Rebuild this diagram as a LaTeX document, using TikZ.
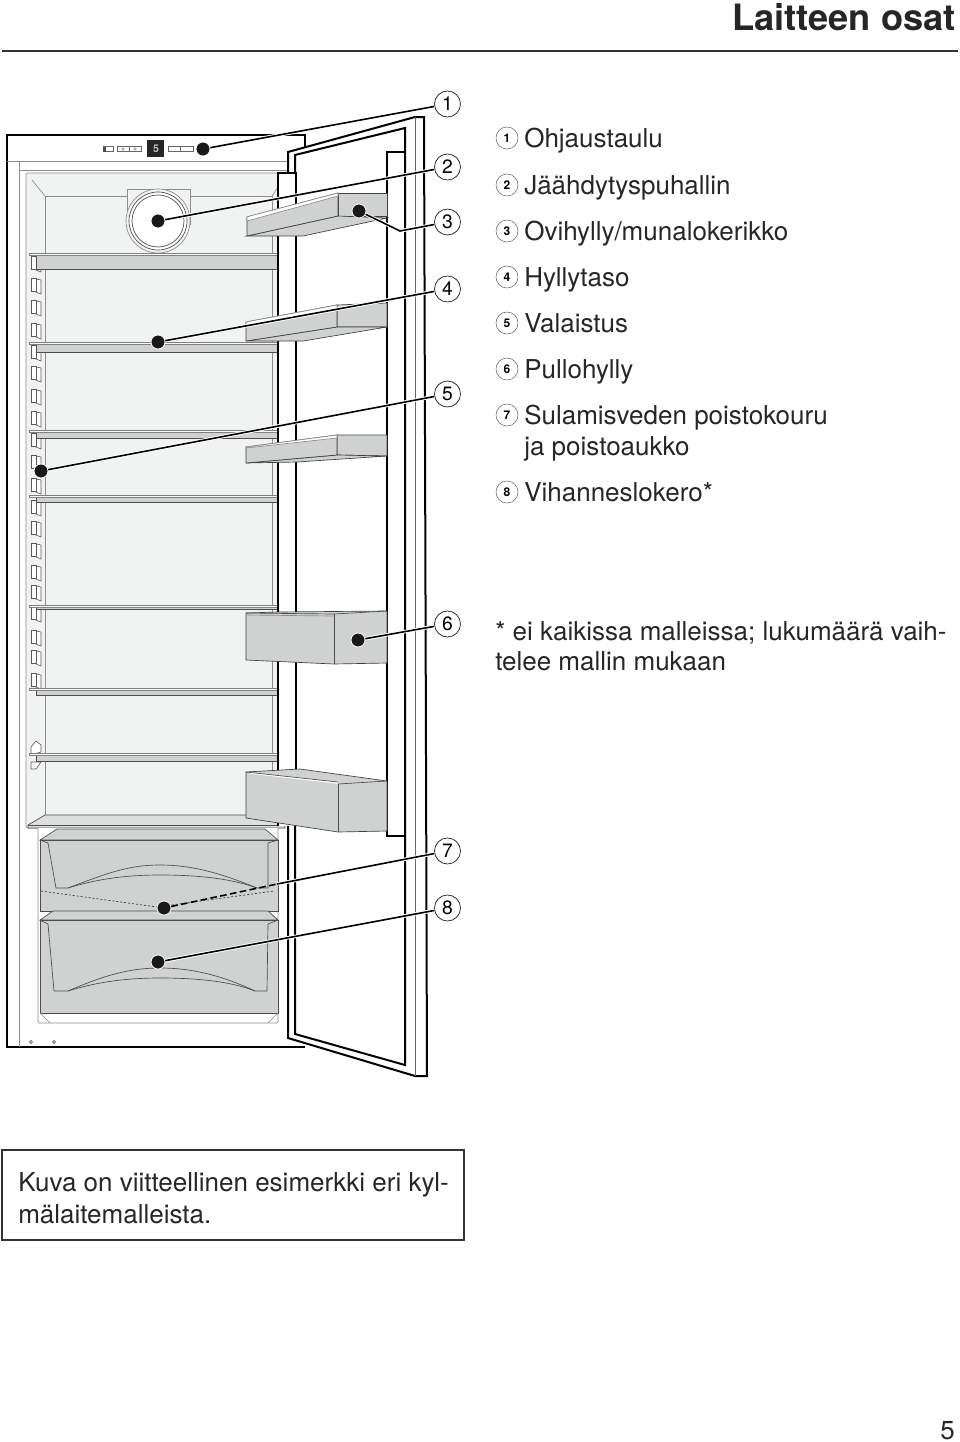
\documentclass[tikz,border=0pt]{standalone}
\usepackage{fontspec}
\setmainfont{TeX Gyre Heros}
\usetikzlibrary{calc}
\definecolor{shelfgray}{HTML}{D0D2D1}
\definecolor{linergray}{HTML}{F1F3F2}
\tikzset{
	bodyline/.style={line width=1.5pt, line join=miter},
	thinline/.style={line width=0.5pt, draw=black!70},
	palegray/.style={line width=0.5pt, draw=black!45},
	shelfface/.style={fill=shelfgray, draw=black!75, line width=0.5pt},
	callout/.style={circle, draw=black!85, fill=white, line width=0.55pt, minimum size=19.5pt, inner sep=0pt, font=\fontsize{14.5}{14.5}\selectfont},
	keycircle/.style={circle, draw=black!60, line width=0.4pt, minimum size=16.5pt, inner sep=0pt, font=\fontsize{9}{9}\selectfont\bfseries},
	targetdot/.style={circle, fill=black!90, draw=white, line width=0.6pt, minimum size=10.5pt, inner sep=0pt},
	leadline/.style={line width=1.2pt, preaction={draw=white, line width=2.6pt}},
	keytext/.style={anchor=base west, inner sep=0pt, text=black!85, font=\fontsize{19.5}{23}\selectfont},
	tab/.style={draw=black!65, line width=0.45pt, fill=white}
}
\begin{document}
\begin{tikzpicture}[x=0.75pt, y=-0.75pt]
      \useasboundingbox (0,0) rectangle (960,1442);
      % header
      \node[anchor=base east, inner sep=0pt, font=\fontsize{27.2}{30}\selectfont\bfseries, text=black!85] (title) at (956,30) {Laitteen osat};
      \draw[line width=1pt, black!80] (2,51) -- (958,51);
      % cabinet
      \draw[bodyline, fill=white] (305,147) -- (305,135) -- (7,135) -- (7,1047) -- (305,1047);
      \draw[palegray] (7,161) -- (288,161);
      \draw[palegray] (19,161) -- (19,1047);
      \draw[palegray] (19,170) -- (288,170);
      % liner
      \draw[palegray, fill=linergray, rounded corners=1.5pt] (26,173) -- (278,173) -- (278,828) -- (26,828) -- cycle;
      \draw[palegray] (45,196) -- (272,196) -- (272,815);
      \draw[palegray] (45,196) -- (45,815) -- (272,815);
      \draw[palegray] (32,180) -- (45,196);
      \draw[palegray] (272,196) -- (278,187);
      % fan
      \draw[palegray, fill=linergray] (127,225) -- (127,189) -- (190,189) -- (190,225);
      \draw[palegray, fill=linergray] (158,221) circle (32);
      \draw[thinline, fill=white] (158,221) circle (29);
      \draw[thinline, fill=white] (158,221) circle (26);
      % control panel
      \draw[line width=0.3pt, black!60] (103,146.5) rectangle (113,151.5);
      \fill[black!70] (103,146.5) rectangle (106,151.5);
      \draw[line width=0.3pt, black!60] (117,146.5) rectangle (141,151.5);
      \draw[line width=0.3pt, black!60] (129,146.5) -- (129,151.5);
      \draw[line width=0.3pt, black!60] (123,149) circle (1.4);
      \draw[line width=0.3pt, black!60] (135,149) circle (1.4);
      \fill[black!85] (147,140) rectangle (164,157);
      \node[inner sep=0pt, text=black!25, font=\fontsize{8}{8}\selectfont\bfseries] (display) at (156,149) {5};
      \draw[line width=0.3pt, black!60] (168,146.5) rectangle (193,151.5);
      \draw[line width=0.3pt, black!60] (180,146.5) -- (180,151.5);
      % rack tabs
      \foreach \y in {263,285,307,330,352,373,396,418,440,462,485,507,528,550,572,592,613,637,657,680} {
        \draw[tab] (36,\y-6) -- (41,\y-5) -- (41,\y+9) -- (36,\y+7) -- cycle;
        \draw[tab] (31,\y-7) rectangle (36.5,\y+6);
      }
      \draw[tab] (31,747) -- (36,741) -- (41,745) -- (41,752) -- (31,755) -- cycle;
      \draw[tab] (31,762) -- (41,762) -- (36,769) -- (31,769) -- cycle;
      % shelves
      \foreach \ya/\yb in {253/269,342/352,430/438,495/502,605/609,688/695,753/761} {
        \draw[thinline, fill=shelfgray] (29,\ya) -- (278,\ya) -- (278,\yb) -- (36,\yb) -- (36,\ya+2) -- (29,\ya+2) -- cycle;
        \draw[line width=0.4pt, draw=black!50, fill=white!85!shelfgray] (29,\ya) -- (278,\ya) -- (278,\ya+2) -- (29,\ya+2) -- cycle;
      }
      \draw[thinline, fill=shelfgray!70!white] (28,825) -- (45,815) -- (272,815) -- (285,825) -- (285,828) -- (28,828) -- cycle;
      \draw[thinline] (28,825) -- (285,825);
      % door
      \draw[bodyline, fill=white] (278,826) -- (278,173) -- (296,173) -- (296,826);
      \draw[bodyline] (288,173) -- (288,152) -- (415,117) -- (424,117) -- (427,1076) -- (415,1076) -- (288,1038) -- (288,826);
      \draw[bodyline] (295,173) -- (295,155) -- (405,128) -- (405,1065) -- (295,1034) -- (295,826);
      \draw[line width=0.5pt, black!60] (415,117) -- (415,1076);
      \draw[bodyline] (405,152) -- (387,152) -- (387,836) -- (405,836);
      % door shelves
      \draw[shelfface] (338,193) -- (387,193) -- (387,216) -- (338,216) -- cycle;
      \draw[shelfface] (247,236) -- (338,216) -- (387,218) -- (303,236) -- cycle;
      \draw[shelfface] (247,217) -- (338,193) -- (338,216) -- (247,236) -- cycle;
      \draw[palegray, fill=white] (250,216) -- (338,193) -- (338,196) -- (247,221) -- (247,217) -- cycle;
      \draw[shelfface] (337,305) -- (387,303) -- (387,327) -- (337,327) -- cycle;
      \draw[shelfface] (246,341) -- (337,327) -- (387,327) -- (303,341) -- cycle;
      \draw[shelfface] (246,322) -- (337,305) -- (337,327) -- (246,341) -- cycle;
      \draw[palegray, fill=white] (246,322) -- (337,305) -- (337,308) -- (246,326) -- cycle;
      \draw[shelfface] (337,435) -- (387,435) -- (387,456) -- (337,455) -- cycle;
      \draw[shelfface] (246,463) -- (337,455) -- (387,456) -- (297,462) -- cycle;
      \draw[shelfface] (246,447) -- (337,435) -- (337,455) -- (246,463) -- cycle;
      \draw[palegray, fill=white] (246,447) -- (337,435) -- (337,438) -- (246,448) -- cycle;
      \draw[shelfface] (246,613) -- (278,612) -- (387,611) -- (387,663) -- (334,664) -- (246,660) -- cycle;
      \draw[thinline] (334,614) -- (334,664);
      \draw[palegray] (246,615) -- (334,616);
      \draw[thinline] (246,613) -- (334,614) -- (387,611);
      \draw[shelfface] (246,772) -- (300,769) -- (387,781) -- (387,831) -- (338,832) -- (246,818) -- cycle;
      \draw[thinline] (338,784) -- (338,832);
      \draw[thinline] (338,784) -- (387,781);
      \draw[line width=1.1pt, white] (250,773) -- (338,783);
      \draw[thinline] (246,772) -- (338,782);
      % drawers
      \draw[palegray, fill=white, rounded corners=1pt] (38,828) -- (38,1023) -- (278,1023) -- (278,828);
      \draw[thinline, fill=shelfgray] (40,840) -- (57,829) -- (265,829) -- (278,840) -- cycle;
      \draw[thinline, fill=shelfgray] (40,840) rectangle (278,911);
      \draw[thinline, fill=shelfgray] (40,920) -- (53,911) -- (268,911) -- (278,920) -- cycle;
      \draw[thinline, fill=shelfgray] (40,920) rectangle (278,1013);
      \draw[thinline] (40,840) -- (48,843) -- (56,888) -- (68,888) .. controls (110,872) and (130,865) .. (160,865) .. controls (195,865) and (225,875) .. (257,888) -- (268,888) -- (268,843) -- (278,840);
      \draw[thinline] (68,888) .. controls (100,878) and (130,875) .. (160,875) .. controls (195,875) and (230,878) .. (257,888);
      \draw[thinline] (40,920) -- (48,924) -- (54,991) -- (68,991) .. controls (105,975) and (130,968) .. (160,968) .. controls (195,968) and (225,977) .. (255,991) -- (267,991) -- (268,924) -- (278,920);
      \draw[thinline] (68,991) .. controls (100,981) and (130,978) .. (160,978) .. controls (195,978) and (230,981) .. (255,991);
      \draw[line width=0.5pt, dashed, dash pattern=on 1.5pt off 1.5pt, black!80] (41,891) -- (157,907) -- (274,891);
      \draw[palegray] (40,1013) -- (50,1023);
      \draw[palegray] (278,1013) -- (268,1023);
      % feet
      \draw[line width=0.4pt, black!80] (31,1042) circle (1.6);
      \draw[line width=0.4pt, black!80] (54,1042) circle (1.6);
      % numbered callouts and their targets
      \foreach \n/\y in {1/104,2/167,3/222,4/289,5/394,6/624,7/851,8/908}
        \node[callout] (call\n) at (447.5,\y) {\n};
      \node[targetdot] (dot1) at (203,149) {};
      \node[targetdot] (dot2) at (158,221) {};
      \node[targetdot] (dot3) at (359,211) {};
      \node[targetdot] (dot4) at (158,342) {};
      \node[targetdot] (dot5) at (41,471) {};
      \node[targetdot] (dot6) at (358,640) {};
      \node[targetdot] (dot7) at (164,908) {};
      \node[targetdot] (dot8) at (158,962) {};
      \coordinate (bend3) at (400,231);
      \coordinate (drain7) at (277,884);
      % leaders
      \draw[leadline] (dot1) -- (call1);
      \draw[leadline] (dot2) -- (call2);
      \draw[leadline] (dot3) -- (bend3) -- (call3);
      \draw[leadline] (dot4) -- (call4);
      \draw[leadline] (dot5) -- (call5);
      \draw[leadline] (dot6) -- (call6);
      \draw[line width=1.2pt, dashed, dash pattern=on 5pt off 2.5pt] (dot7) -- (drain7);
      \draw[leadline] (drain7) -- (call7);
      \draw[leadline] (dot8) -- (call8);
      % key
      \foreach \n/\y/\txt in {1/147/Ohjaustaulu, 2/194/Jäähdytyspuhallin, 3/240/Ovihylly\slash munalokerikko, 4/286/Hyllytaso, 5/332/Valaistus, 6/378/Pullohylly, 7/424/Sulamisveden poistokouru, 8/501/Vihanneslokero*} {
        \node[keycircle] (key\n) at (507,\y-9) {\n};
        \node[keytext] (keytxt\n) at (524,\y) {\txt};
      }
      \node[keytext] (keytxt7b) at (524,455) {ja poistoaukko};
      % footnote
      \node[keytext] (note1) at (495,640) {* ei kaikissa malleissa; lukumäärä vaih-};
      \node[keytext] (note2) at (495,670) {telee mallin mukaan};
      % remark box
      \draw[line width=1pt, black!80] (2,1150) rectangle (464,1240);
      \node[keytext] (box1) at (18,1191) {Kuva on viitteellinen esimerkki eri kyl-};
      \node[keytext] (box2) at (18,1223) {mälaitemalleista.};
      % page number
      \node[keytext, anchor=base east] (page) at (955,1439) {5};
    \end{tikzpicture}
\end{document}
